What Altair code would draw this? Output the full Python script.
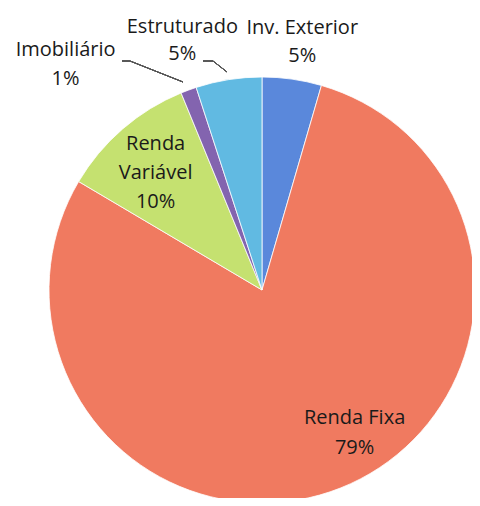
import altair as alt
import pandas as pd

categories = ["Inv. Exterior", "Renda Fixa", "Renda Variável", "Imobiliário", "Estruturado"]
values = [4.5, 79.0, 10.3, 1.2, 5.0]
pct_labels = ["5%", "79%", "10%", "1%", "5%"]
colors = ["#5585da", "#f0765b", "#c4e16c", "#8060ad", "#5cb8e2"]

label_text = [
    "Inv. Exterior\n5%",
    "Renda Fixa\n79%",
    "Renda\nVariável\n10%",
    "Imobiliário\n1%",
    "Estruturado\n5%",
]

df = pd.DataFrame({
    "cat": categories,
    "value": values,
    "order": list(range(len(categories))),
    "label": label_text,
})
total = float(sum(values))

CX, CY, R = 254, 282, 213
FONT = "Open Sans"

arcs = alt.Chart(df).mark_arc(stroke="#ffffff", strokeWidth=0.8, opacity=0.97).encode(
    theta=alt.Theta("value:Q", stack=True, scale=alt.Scale(domain=[0, total])),
    order=alt.Order("order:Q"),
    color=alt.Color("cat:N", scale=alt.Scale(domain=categories, range=colors), legend=None),
    x=alt.value(CX), y=alt.value(CY), radius=alt.value(R),
)


def label_layer(cat, radius, dx, dy, size=20, lh=28):
    return alt.Chart(df).transform_window(
        cum="sum(value)", sort=[alt.SortField("order")]
    ).transform_calculate(
        mid="datum.cum - datum.value / 2"
    ).transform_filter(
        alt.datum.cat == cat
    ).mark_text(
        font=FONT, fontSize=size, color="#1a1a1a", lineBreak="\n",
        align="center", baseline="middle", dx=dx, dy=dy, lineHeight=lh,
    ).encode(
        theta=alt.Theta("mid:Q", scale=alt.Scale(domain=[0, total])),
        text="label:N",
        x=alt.value(CX), y=alt.value(CY), radius=alt.value(radius),
    )


labels = [
    label_layer("Inv. Exterior", 250, 5, -14, lh=28),
    label_layer("Renda Fixa", 170, 30, -30, lh=30),
    label_layer("Renda Variável", 158, -3, -27, lh=29),
    label_layer("Imobiliário", 300, -93, 42, lh=29),
    label_layer("Estruturado", 260, -39, -6, lh=27),
]

line_color = "#555555"


def seg(x1, y1, x2, y2):
    return alt.Chart(df).mark_rule(color=line_color, strokeWidth=1).encode(
        x=alt.value(x1), y=alt.value(y1), x2=alt.value(x2), y2=alt.value(y2))


leaders = [
    seg(114, 53, 122, 53),
    seg(122, 53, 175, 74),
    seg(195, 53, 205, 53),
    seg(205, 53, 219, 64),
]

chart = alt.layer(arcs, *labels, *leaders).resolve_scale(
    theta="independent"
).properties(
    width=464, height=490, padding=0,
    autosize=alt.AutoSizeParams(type="none"),
).configure_view(stroke=None)

chart.save("out.html", embed_options={"renderer": "svg", "actions": False})
